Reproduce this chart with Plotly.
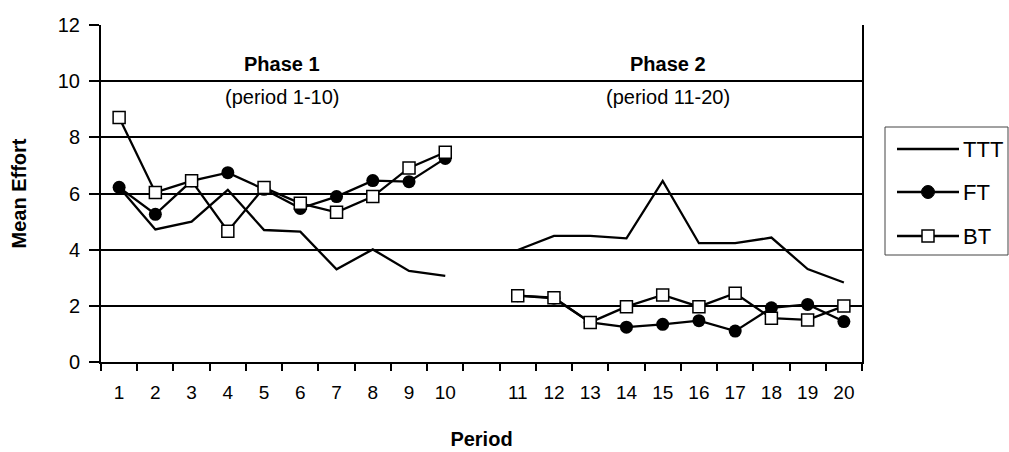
import plotly.graph_objects as go

# Period labels; an empty slot separates the two phases on the category axis
periods_phase1 = ["1", "2", "3", "4", "5", "6", "7", "8", "9", "10"]
periods_phase2 = ["11", "12", "13", "14", "15", "16", "17", "18", "19", "20"]
gap_label = " "

ttt_phase1 = [6.22, 4.72, 5.00, 6.13, 4.70, 4.64, 3.30, 4.01, 3.24, 3.07]
ttt_phase2 = [3.99, 4.49, 4.49, 4.40, 6.45, 4.23, 4.23, 4.43, 3.31, 2.83]
ft_phase1 = [6.22, 5.26, 6.45, 6.74, 6.15, 5.47, 5.89, 6.46, 6.42, 7.25]
ft_phase2 = [2.36, 2.27, 1.41, 1.24, 1.34, 1.47, 1.10, 1.93, 2.05, 1.44]
bt_phase1 = [8.71, 6.04, 6.45, 4.66, 6.21, 5.65, 5.33, 5.89, 6.91, 7.47]
bt_phase2 = [2.36, 2.29, 1.41, 1.97, 2.39, 1.97, 2.45, 1.56, 1.50, 1.99]

series_names = ["TTT", "FT", "BT"]
y_ticks = [0, 2, 4, 6, 8, 10, 12]

categories = periods_phase1 + [gap_label] + periods_phase2


def join_phases(a, b):
    return a + [None] + b


FONT = "Liberation Sans, Arial, sans-serif"
W, H = 1009, 452
L, R, T, B = 101, 147, 25, 90
PW, PH = W - L - R, H - T - B


def px_x(x):
    return (x - L) / PW


def px_y(y):
    return (H - B - y) / PH


fig = go.Figure()

fig.add_trace(go.Scatter(
    x=categories, y=join_phases(ttt_phase1, ttt_phase2), name=series_names[0],
    mode="lines", line=dict(color="black", width=2.3), connectgaps=False,
    showlegend=False,
))
fig.add_trace(go.Scatter(
    x=categories, y=join_phases(ft_phase1, ft_phase2), name=series_names[1],
    mode="lines+markers", line=dict(color="black", width=2.3), connectgaps=False,
    marker=dict(symbol="circle", size=13, color="black"),
    showlegend=False,
))
fig.add_trace(go.Scatter(
    x=categories, y=join_phases(bt_phase1, bt_phase2), name=series_names[2],
    mode="lines+markers", line=dict(color="black", width=2.3), connectgaps=False,
    marker=dict(symbol="square", size=12, color="white",
                line=dict(color="black", width=1.5)),
    showlegend=False,
))

shapes = []
annotations = []

# Legend box with line samples
shapes.append(dict(type="rect", xref="paper", yref="paper",
                   x0=px_x(885), x1=px_x(1008), y0=px_y(255), y1=px_y(127),
                   line=dict(color="#444", width=1), fillcolor="white", layer="above"))
legend_rows = [149, 192, 236]
for i, name in enumerate(series_names):
    yy = legend_rows[i]
    shapes.append(dict(type="line", xref="paper", yref="paper",
                       x0=px_x(897), x1=px_x(959), y0=px_y(yy), y1=px_y(yy),
                       line=dict(color="black", width=2.3), layer="above"))
    if name == "FT":
        shapes.append(dict(type="circle", xref="paper", yref="paper",
                           x0=px_x(921.5), x1=px_x(934.5), y0=px_y(yy + 6.5), y1=px_y(yy - 6.5),
                           line=dict(color="black", width=1), fillcolor="black", layer="above"))
    elif name == "BT":
        shapes.append(dict(type="rect", xref="paper", yref="paper",
                           x0=px_x(922), x1=px_x(934), y0=px_y(yy + 6), y1=px_y(yy - 6),
                           line=dict(color="black", width=1.5), fillcolor="white", layer="above"))
    annotations.append(dict(text=name, xref="paper", yref="paper",
                            x=px_x(961), y=px_y(yy), xanchor="left", yanchor="middle",
                            showarrow=False, font=dict(family=FONT, size=22, color="black")))

# Phase headings: title above the 10 gridline, period range below it
for label, sub, cx in [("Phase 1", "(period 1-10)", 282), ("Phase 2", "(period 11-20)", 668)]:
    annotations.append(dict(text="<b>%s</b>" % label, xref="paper", yref="paper",
                            x=px_x(cx), y=px_y(64), xanchor="center", yanchor="middle",
                            showarrow=False, font=dict(family=FONT, size=20, color="black")))
    annotations.append(dict(text=sub, xref="paper", yref="paper",
                            x=px_x(cx), y=px_y(97), xanchor="center", yanchor="middle",
                            showarrow=False, font=dict(family=FONT, size=20, color="black")))

fig.update_layout(
    width=W, height=H,
    margin=dict(l=L, r=R, t=T, b=B, pad=0),
    paper_bgcolor="white", plot_bgcolor="white",
    font=dict(family=FONT, size=19, color="black"),
    shapes=shapes, annotations=annotations,
    xaxis=dict(
        type="category", categoryorder="array", categoryarray=categories,
        tickson="boundaries", ticks="outside", ticklen=7, tickwidth=2, tickcolor="black",
        showline=True, linecolor="black", linewidth=2, showgrid=False, zeroline=False,
        tickfont=dict(family=FONT, size=19), ticklabelstandoff=12, automargin=False,
        title=dict(text="<b>Period</b>", font=dict(family=FONT, size=20), standoff=30),
        range=[-0.5, len(categories) - 0.5],
    ),
    yaxis=dict(
        range=[0, 12], tickvals=y_ticks, ticks="outside", ticklen=10, tickwidth=2,
        tickcolor="black", showline=True, linecolor="black", linewidth=2, mirror=True,
        showgrid=True, gridcolor="black", gridwidth=1.6, zeroline=False,
        tickfont=dict(family=FONT, size=20), ticklabelstandoff=5, automargin=False,
        title=dict(text="<b>Mean Effort</b>", font=dict(family=FONT, size=20), standoff=26),
    ),
)

fig.write_html("out.html")
